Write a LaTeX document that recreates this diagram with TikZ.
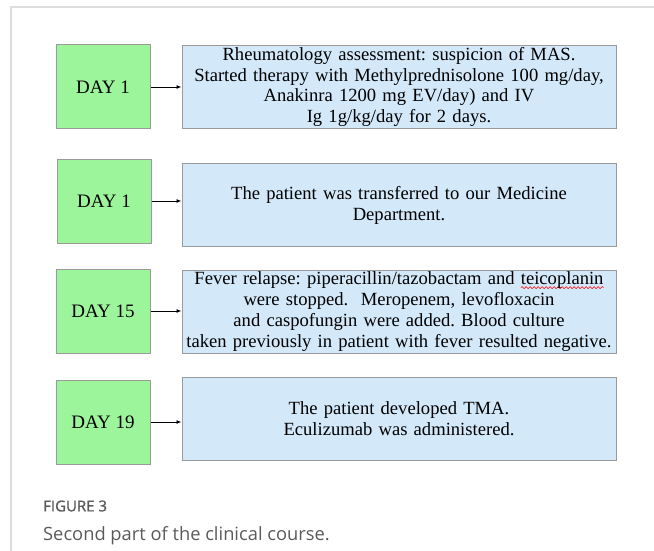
\documentclass[tikz,border=0pt]{standalone}
\usepackage{fontspec}
\setmainfont{Liberation Serif}
\newfontfamily\capfont{Open Sans}
\newfontfamily\capheadfont[FakeBold=1.2]{Open Sans}
\usepackage{xcolor}
\usetikzlibrary{arrows.meta,positioning,decorations.pathmorphing}
\definecolor{daygreen}{HTML}{9DF59B}
\definecolor{notebg}{HTML}{D3E8F8}
\definecolor{boxline}{HTML}{9A9A9A}
\definecolor{frameline}{HTML}{DCDCDC}
\definecolor{capgray}{HTML}{5A5A5A}
\frenchspacing
\newsavebox\wavebox
\newlength\wavelen
\newcommand\spellwave[1]{\sbox\wavebox{#1}\setlength\wavelen{\wd\wavebox}%
  \rlap{\tikz[overlay]\draw[red, line width=0.6pt, decorate,
    decoration={snake, amplitude=1pt, segment length=4pt}] (0pt,-3pt) -- (\wavelen,-3pt);}%
  \usebox\wavebox}
\tikzset{
  daynode/.style={
    rectangle, draw=boxline, line width=1pt, fill=daygreen,
    minimum width=94pt, minimum height=84pt,
    font=\fontsize{19}{21}\selectfont
  },
  notenode/.style={
    rectangle, draw=boxline, line width=1pt, fill=notebg,
    minimum width=434pt, minimum height=83pt, text width=432pt,
    inner sep=1pt, align=center, font=\fontsize{18.6}{20.9}\selectfont
  },
  dayarrow/.style={-{Latex[length=5pt,width=4pt]}, line width=0.9pt, color=black},
}
\begin{document}
\begin{tikzpicture}[x=1pt,y=-1pt]
  \useasboundingbox (0,0) rectangle (654,551);
  \draw[frameline, line width=1.5pt] (654,7) -- (11,7) -- (11,551);
  % day boxes
  \node[daynode] (d1) at (103,87) {DAY 1};
  \node[daynode] (d2) at (104,201) {DAY 1};
  \node[daynode] (d3) at (103,311) {DAY 15};
  \node[daynode] (d4) at (103,422) {DAY 19};
  % notes
  \node[notenode] (n1) at (399,87) {Rheumatology assessment: suspicion of MAS.\\
    Started therapy with Methylprednisolone 100 mg/day,\\
    Anakinra 1200 mg EV/day) and IV\\
    Ig 1g/kg/day for 2 days.};
  \node[notenode] (n2) at (399,205) {The patient was transferred to our Medicine\\
    Department.};
  \node[notenode] (n3) at (399,311.5) {Fever relapse: piperacillin/tazobactam and \spellwave{teicoplanin}\\
    were stopped.\ \ Meropenem, levofloxacin\\
    and caspofungin were added. Blood culture\\
    taken previously in patient with fever resulted negative.};
  \node[notenode] (n4) at (399,418.5) {The patient developed TMA.\\
    Eculizumab was administered.};
  \foreach \a/\b in {d1/n1,d2/n2,d3/n3,d4/n4}
    \draw[dayarrow] (\a.east) -- (\a.east -| \b.west);
  % caption
  \node[anchor=west, text=capgray, font=\capheadfont\fontsize{15}{17}\selectfont, inner sep=0pt] (figlabel) at (43,506) {FIGURE 3};
  \node[anchor=west, text=capgray, font=\capfont\fontsize{18.3}{21}\selectfont, inner sep=0pt] (figtext) at (43,536) {Second part of the clinical course.};
\end{tikzpicture}
\end{document}
